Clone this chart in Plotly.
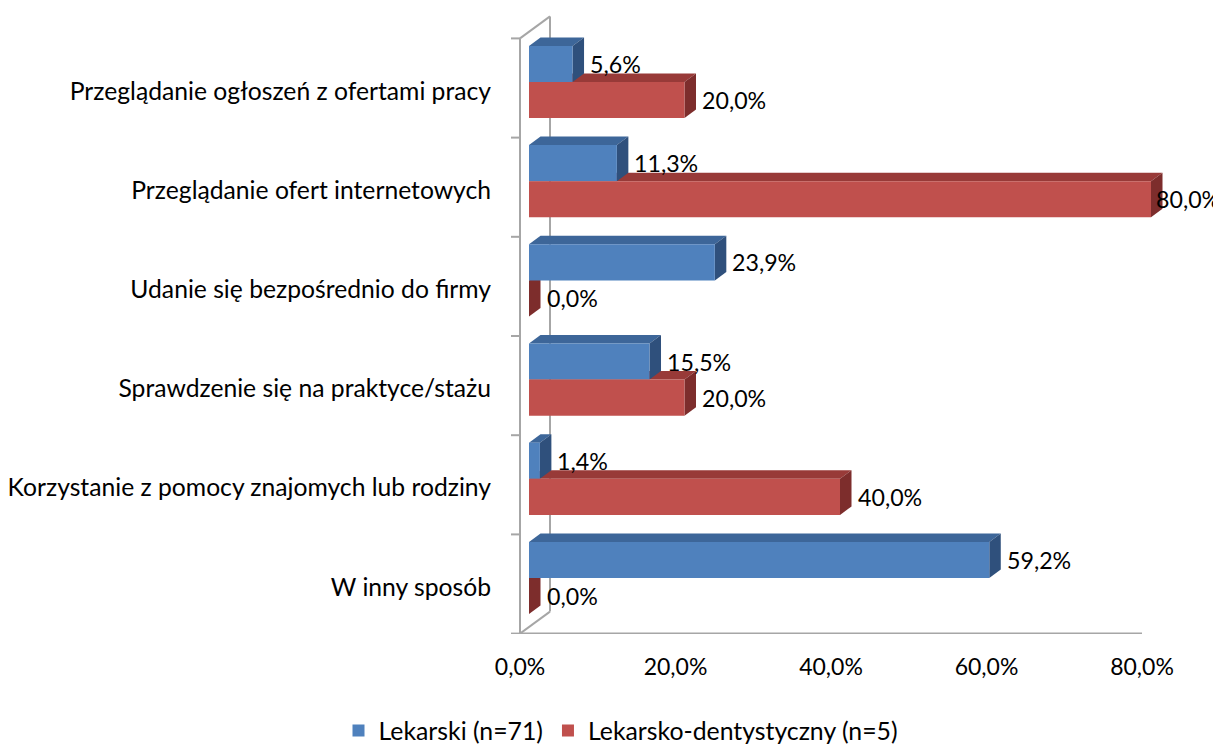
import plotly.graph_objects as go

# ---------------- data ----------------
categories = [
    "Przeglądanie ogłoszeń z ofertami pracy",
    "Przeglądanie ofert internetowych",
    "Udanie się bezpośrednio do firmy",
    "Sprawdzenie się na praktyce/stażu",
    "Korzystanie z pomocy znajomych lub rodziny",
    "W inny sposób",
]
lekarski = [5.6, 11.3, 23.9, 15.5, 1.4, 59.2]
dentystyczny = [20.0, 80.0, 0.0, 20.0, 40.0, 0.0]
series_names = ["Lekarski (n=71)", "Lekarsko-dentystyczny (n=5)"]
x_tick_values = [0, 20, 40, 60, 80]
x_tick_labels = ["0,0%", "20,0%", "40,0%", "60,0%", "80,0%"]

# ---------------- styling / geometry ----------------
W, H = 1221, 745
OFF = 8              # page body margin compensation
FONT = "Lato, 'Open Sans', sans-serif"
FS_CAT, FS_VAL, FS_TICK, FS_LEG = 24.7, 23.2, 23, 24.8

blue_front, blue_top, blue_side = "#4F81BD", "#3D6699", "#2F507C"
red_front, red_top, red_side = "#C0504D", "#983A38", "#7D2D2C"
wall_col = "#A6A6A6"

# page-pixel layout of the plotting area
px_left, px_right = 500, 1205
px_top, px_bottom = 10, 634
x0_px = 529          # page pixel of value 0 in the bar plane
sx = 7.775           # pixels per percent
y0_px = 82           # page pixel centre of first category (bar plane)
sy = 99.2            # pixels per category

xrange = [(px_left - x0_px) / sx, (px_right - x0_px) / sx]
yrange = [(px_bottom - y0_px) / sy, (px_top - y0_px) / sy]   # reversed

def fxp(p):   # page x pixel -> paper fraction
    return (p - OFF) / W

def fyp(p):   # page y pixel -> paper fraction
    return (H - (p - OFF)) / H

def ux(p):
    return p / sx

def uy(p):
    return p / sy

bar_w = 0.364
bdx_px, bdy_px = 11.5, -8.5
bdx, bdy = ux(bdx_px), uy(bdy_px)       # bar depth
fx, fy = ux(-9), uy(6)                  # front plane offset from bar plane
wdx, wdy = ux(30), uy(-22)              # wall depth

n = len(categories)
pos = list(range(n))

fig = go.Figure()
fig.add_trace(go.Bar(
    y=pos, x=lekarski, orientation="h", name=series_names[0],
    marker=dict(color=blue_front, line=dict(width=0)),
    offset=-bar_w, width=bar_w, hoverinfo="x",
))
fig.add_trace(go.Bar(
    y=pos, x=dentystyczny, orientation="h", name=series_names[1],
    marker=dict(color=red_front, line=dict(width=0)),
    offset=0, width=bar_w, hoverinfo="x",
))

shapes = []

def line(x0, y0, x1, y1):
    shapes.append(dict(type="line", xref="x", yref="y", x0=x0, y0=y0, x1=x1, y1=y1,
                       line=dict(color=wall_col, width=2), layer="below"))

top_b, bot_b = -0.5, n - 0.5
fx0 = 0 + fx
line(fx0, top_b + fy, fx0, bot_b + fy)
line(fx0, top_b + fy, fx0 + wdx, top_b + fy + wdy)
line(fx0, bot_b + fy, fx0 + wdx, bot_b + fy + wdy)
line(fx0 + wdx, top_b + fy + wdy, fx0 + wdx, bot_b + fy + wdy)
line(fx0, bot_b + fy, x_tick_values[-1] + fx, bot_b + fy)
for k in range(n + 1):
    yb = -0.5 + k + fy
    line(fx0 - ux(9), yb, fx0, yb)

def path(pts):
    return "M " + " L ".join(f"{a},{b}" for a, b in pts) + " Z"

def faces(v, ya, yb, ctop, cside):
    shapes.append(dict(type="path", xref="x", yref="y", layer="below",
                       path=path([(0, ya), (v, ya), (v + bdx, ya + bdy), (bdx, ya + bdy)]),
                       fillcolor=ctop, line=dict(width=0)))
    shapes.append(dict(type="path", xref="x", yref="y", layer="below",
                       path=path([(v, ya), (v, yb), (v + bdx, yb + bdy), (v + bdx, ya + bdy)]),
                       fillcolor=cside, line=dict(width=0)))

def fmt(v):
    return f"{v:.1f}".replace(".", ",") + "%"

for i in pos:
    faces(dentystyczny[i], i, i + bar_w, red_top, red_side)
for i in pos:
    faces(lekarski[i], i - bar_w, i, blue_top, blue_side)

annotations = []
label_w = 66
for i in pos:
    for vals, ctr in ((lekarski, i - bar_w / 2), (dentystyczny, i + bar_w / 2)):
        xpx = x0_px + vals[i] * sx
        shift = min(bdx_px + 4, (W - 1 - label_w) - xpx)
        annotations.append(dict(
            x=vals[i], y=ctr, xref="x", yref="y", text=fmt(vals[i]),
            showarrow=False, xanchor="left", yanchor="middle",
            xshift=shift, font=dict(family=FONT, size=FS_VAL, color="black"),
        ))

fig.update_layout(
    width=W, height=H,
    margin=dict(l=0, r=0, t=0, b=0, autoexpand=False),
    paper_bgcolor="white", plot_bgcolor="rgba(0,0,0,0)",
    barmode="overlay",
    font=dict(family=FONT, size=FS_TICK, color="black"),
    shapes=shapes, annotations=annotations,
    showlegend=True,
    legend=dict(orientation="h", x=fxp(621), xanchor="center", y=fyp(731),
                yanchor="middle", font=dict(family=FONT, size=FS_LEG, color="black"),
                itemwidth=30, bgcolor="rgba(0,0,0,0)"),
    xaxis=dict(domain=[fxp(px_left), fxp(px_right)], range=xrange,
               showgrid=False, zeroline=False, showline=False,
               tickmode="array", tickvals=[t + fx for t in x_tick_values],
               ticktext=x_tick_labels, ticks="outside", ticklen=12,
               tickfont=dict(family=FONT, size=FS_TICK, color="black"),
               tickcolor="rgba(0,0,0,0)", anchor="y", automargin=False),
    yaxis=dict(domain=[fyp(px_bottom), fyp(px_top)], range=yrange,
               showgrid=False, zeroline=False, showline=False,
               tickmode="array", tickvals=[p + fy + uy(3) for p in pos],
               ticktext=categories, ticks="outside", ticklen=24,
               tickfont=dict(family=FONT, size=FS_CAT, color="black"),
               tickcolor="rgba(0,0,0,0)", anchor="free", position=fxp(520),
               automargin=False),
)

fig.write_html("out.html")
